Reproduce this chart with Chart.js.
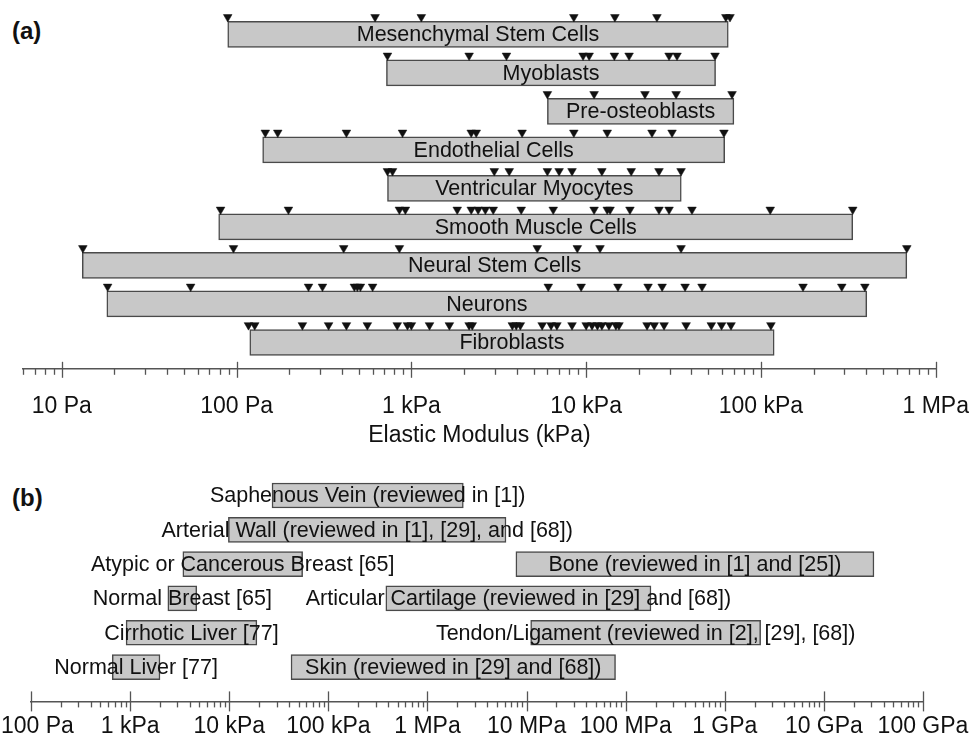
<!DOCTYPE html>
<html>
<head>
<meta charset="utf-8">
<title>Elastic modulus of cells and tissues</title>
<script src="https://cdn.jsdelivr.net/npm/chart.js@4.4.1/dist/chart.umd.min.js"></script>
<style>
    html, body { margin: 0; padding: 0; background: #fff; }
    body { width: 969px; height: 744px; position: relative; overflow: hidden;
           font-family: 'Liberation Sans', Arial, sans-serif; }
    .panel-tag { position: absolute; left: 12px; font-weight: bold; font-size: 24px; color: #111; line-height: 1; }
    #wrapA { position: absolute; left: 0; top: 0; width: 969px; height: 452px; }
    #wrapB { position: absolute; left: 0; top: 452px; width: 969px; height: 292px; }
</style>
</head>
<body>
<div class="panel-tag" style="top:19px">(a)</div>
<div class="panel-tag" style="top:486px">(b)</div>
<div id="wrapA"><canvas id="cellChart" width="969" height="452"></canvas></div>
<div id="wrapB"><canvas id="tissueChart" width="969" height="292"></canvas></div>
<script>
// Panel (a): stiffness of the substrates reported for each cell type (kPa)
const cellTypes = ['Mesenchymal Stem Cells', 'Myoblasts', 'Pre-osteoblasts', 'Endothelial Cells',
    'Ventricular Myocytes', 'Smooth Muscle Cells', 'Neural Stem Cells', 'Neurons', 'Fibroblasts'];
const cellMinKPa = [0.089, 0.72, 6.0, 0.141, 0.73, 0.079, 0.0131, 0.0181, 0.119];
const cellMaxKPa = [65, 55, 70, 62, 35, 335, 683, 403, 119];
const cellReportsKPa = [
    [0.089, 0.62, 1.14, 8.5, 14.6, 25.4, 63, 66.5],
    [0.73, 2.14, 3.5, 9.6, 10.4, 14.5, 17.6, 29.8, 33.1, 54.6],
    [6.0, 11.1, 21.7, 32.7, 68.3],
    [0.146, 0.172, 0.425, 0.89, 2.2, 2.35, 4.3, 8.5, 13.2, 23.8, 31, 61.4],
    [0.73, 0.78, 2.98, 3.63, 6.0, 7.0, 8.3, 12.3, 18.1, 26.1, 34.9],
    [0.081, 0.198, 0.854, 0.924, 1.83, 2.2, 2.41, 2.65, 2.94, 4.25, 6.48, 11.1, 13.2, 13.7, 17.8, 26.1, 29.8, 40.3, 113, 335],
    [0.0132, 0.096, 0.41, 0.854, 5.25, 8.9, 12, 34.9, 683],
    [0.0183, 0.0546, 0.258, 0.31, 0.472, 0.491, 0.511, 0.6, 6.07, 9.36, 15.2, 22.6, 27.2, 36.8, 46, 174, 290, 393],
    [0.117, 0.127, 0.238, 0.336, 0.425, 0.56, 0.83, 0.95, 1.0, 1.27, 1.65, 2.14, 2.23, 3.78, 3.98, 4.2, 5.6, 6.3, 6.8,
        8.3, 10, 10.8, 11.6, 12.3, 13.5, 14.8, 15.4, 22.3, 24.5, 27.9, 37.3, 52, 59.5, 67.4, 114]
];
const cellAxisMinKPa = 0.006;
const cellAxisMaxKPa = 1000;
const cellMajorTicksKPa = [0.01, 0.1, 1, 10, 100, 1000];
const cellTickLabels = ['10 Pa', '100 Pa', '1 kPa', '10 kPa', '100 kPa', '1 MPa'];

// Panel (b): elastic modulus ranges of tissues (Pa)
const tissueNames = ['Saphenous Vein (reviewed in [1])', 'Arterial Wall (reviewed in [1], [29], and [68])',
    'Atypic or Cancerous Breast [65]', 'Bone (reviewed in [1] and [25])',
    'Normal Breast [65]', 'Articular Cartilage (reviewed in [29] and [68])',
    'Cirrhotic Liver [77]', 'Tendon/Ligament (reviewed in [2], [29], [68])',
    'Normal Liver [77]', 'Skin (reviewed in [29] and [68])'];
const tissueRow = [0, 1, 2, 2, 3, 3, 4, 4, 5, 5];
const tissueMinPa = [2.7e4, 9.8e3, 3.4e3, 7.8e6, 2.4e3, 3.8e5, 9.1e2, 1.1e7, 6.6e2, 4.2e4];
const tissueMaxPa = [2.3e6, 6.2e6, 5.5e4, 3.2e10, 4.7e3, 1.8e8, 1.9e4, 2.3e9, 2.0e3, 7.9e7];
const tissueAxisMinPa = 99.9;
const tissueAxisMaxPa = 1e11;
const tissueMajorTicksPa = [1e2, 1e3, 1e4, 1e5, 1e6, 1e7, 1e8, 1e9, 1e10, 1e11];
// the first label sits a little right of its tick in the original
const tissueTickLabels = ['  100 Pa', '1 kPa', '10 kPa', '100 kPa', '1 MPa', '10 MPa', '100 MPa', '1 GPa', '10 GPa', '100 GPa'];

Chart.defaults.font.family = "'Liberation Sans', Arial, sans-serif";
Chart.defaults.color = '#111';

const BAR_FILL = '#c8c8c8';
const BAR_EDGE = '#4a4a4a';
const AXIS_GREY = '#555';
const MARK_LIFT = 0.45; // markers sit on top of their bar (row units)

/**
 * 1..9 x 10^n ticks between min and max, decades flagged as major.
 * An unlabelled tick is kept at min so the first label does not push the chart area.
 */
function logTicks(min, max) {
    const ticks = [];
    for (let e = Math.floor(Math.log10(min)); e <= Math.ceil(Math.log10(max)); e++) {
        for (let k = 1; k <= 9; k++) {
            const v = k * Math.pow(10, e);
            if (v >= min * 0.999 && v <= max * 1.001) ticks.push({ value: v, major: k === 1 });
        }
    }
    if (ticks.length && ticks[0].value > min * 1.0001) ticks.unshift({ value: min, major: false, bound: true });
    return ticks;
}

function tickLabel(value, majors, labels) {
    const idx = majors.findIndex(m => Math.abs(Math.log10(m) - Math.log10(value)) < 1e-6);
    return idx >= 0 ? labels[idx] : '';
}

// Tick marks: short ones hanging under the axis, decades crossing it
const tickMarksPlugin = {
    id: 'tickMarks',
    afterDraw(chart, args, opts) {
        const scale = chart.scales.x;
        const ctx = chart.ctx;
        ctx.save();
        ctx.strokeStyle = AXIS_GREY;
        ctx.lineWidth = 1.3;
        scale.ticks.forEach(t => {
            if (t.bound) return;
            const x = Math.round(scale.getPixelForValue(t.value)) + 0.5;
            ctx.beginPath();
            if (t.major) {
                ctx.moveTo(x, scale.top - opts.up);
                ctx.lineTo(x, scale.top + opts.down);
            } else {
                ctx.moveTo(x, scale.top);
                ctx.lineTo(x, scale.top + opts.minor);
            }
            ctx.stroke();
        });
        ctx.restore();
    }
};

// Names written across the middle of each bar
const barLabelsPlugin = {
    id: 'barLabels',
    afterDatasetsDraw(chart, args, opts) {
        const ctx = chart.ctx;
        chart.data.datasets.forEach((ds, di) => {
            if (!ds.barLabels) return;
            const meta = chart.getDatasetMeta(di);
            ctx.save();
            ctx.font = opts.size + "px 'Liberation Sans', Arial, sans-serif";
            ctx.fillStyle = '#111';
            ctx.textAlign = 'center';
            ctx.textBaseline = 'middle';
            meta.data.forEach((bar, i) => {
                ctx.fillText(ds.barLabels[i], (bar.x + bar.base) / 2, bar.y + 1);
            });
            ctx.restore();
        });
    }
};

/**
 * Log axis; the grid tick only reserves the gap above the labels, the marks come from tickMarksPlugin.
 */
function logAxis(min, max, majors, labels, labelGap) {
    return {
        type: 'logarithmic',
        min: min,
        max: max,
        offset: false,
        afterBuildTicks: scale => { scale.ticks = logTicks(min, max); },
        border: { display: true, color: AXIS_GREY, width: 1.5 },
        grid: { display: true, offset: false, drawOnChartArea: false, drawTicks: true, tickLength: labelGap, tickColor: 'rgba(0,0,0,0)' },
        ticks: {
            autoSkip: false, maxRotation: 0, minRotation: 0, padding: 0,
            color: '#111', font: { size: 23 },
            callback: value => tickLabel(value, majors, labels)
        }
    };
}

window.modulusFigure = {
    init: function() {
        this.renderCellChart();
        this.renderTissueChart();
    },

    /**
     * Panel (a): substrate stiffness range per cell type with each reported value as a marker.
     */
    renderCellChart: function() {
        const ctx = document.getElementById('cellChart');
        if (!ctx) return;

        const bars = cellTypes.map((name, i) => ({ x: [cellMinKPa[i], cellMaxKPa[i]], y: i }));
        const marks = [];
        cellReportsKPa.forEach((reports, i) => {
            reports.forEach(v => marks.push({ x: v, y: i - MARK_LIFT }));
        });

        const xAxis = logAxis(cellAxisMinKPa, cellAxisMaxKPa, cellMajorTicksKPa, cellTickLabels, 24);
        xAxis.title = { display: true, text: 'Elastic Modulus (kPa)', color: '#111', font: { size: 23 }, padding: { top: 1, bottom: 2 } };

        new Chart(ctx, {
            type: 'bar',
            data: {
                datasets: [{
                    type: 'scatter',
                    data: marks,
                    pointStyle: 'triangle',
                    rotation: 180,
                    radius: 5,
                    backgroundColor: '#111',
                    borderColor: '#111',
                    borderWidth: 0.5,
                    order: 1
                }, {
                    type: 'bar',
                    indexAxis: 'y',
                    data: bars,
                    barLabels: cellTypes,
                    barThickness: 26,
                    backgroundColor: BAR_FILL,
                    borderColor: BAR_EDGE,
                    borderWidth: 1.5,
                    borderSkipped: false,
                    order: 2
                }]
            },
            options: {
                responsive: false,
                animation: false,
                layout: { padding: { top: 4, left: 23, right: 30, bottom: 1 } },
                scales: {
                    x: xAxis,
                    y: { type: 'linear', display: false, offset: false, reverse: true, min: -0.75, max: 8.684 }
                },
                plugins: {
                    legend: { display: false },
                    tooltip: { enabled: false },
                    tickMarks: { up: 7, down: 9, minor: 6 },
                    barLabels: { size: 21.5 }
                }
            },
            plugins: [tickMarksPlugin, barLabelsPlugin]
        });
    },

    /**
     * Panel (b): modulus range of whole tissues, two tissues sharing some rows.
     */
    renderTissueChart: function() {
        const ctx = document.getElementById('tissueChart');
        if (!ctx) return;

        const bars = tissueNames.map((name, i) => ({ x: [tissueMinPa[i], tissueMaxPa[i]], y: tissueRow[i] }));

        new Chart(ctx, {
            type: 'bar',
            data: {
                datasets: [{
                    type: 'bar',
                    indexAxis: 'y',
                    data: bars,
                    barLabels: tissueNames,
                    barThickness: 25,
                    backgroundColor: BAR_FILL,
                    borderColor: BAR_EDGE,
                    borderWidth: 1.5,
                    borderSkipped: false
                }]
            },
            options: {
                responsive: false,
                animation: false,
                layout: { padding: { top: 5, left: 31, right: 46, bottom: 4 } },
                scales: {
                    x: logAxis(tissueAxisMinPa, tissueAxisMaxPa, tissueMajorTicksPa, tissueTickLabels, 11),
                    y: { type: 'linear', display: false, offset: false, reverse: true, min: -1.122, max: 6.0 }
                },
                plugins: {
                    legend: { display: false },
                    tooltip: { enabled: false },
                    tickMarks: { up: 10, down: 10, minor: 6 },
                    barLabels: { size: 21.5 }
                }
            },
            plugins: [tickMarksPlugin, barLabelsPlugin]
        });
    }
};

window.modulusFigure.init();
</script>
</body>
</html>
